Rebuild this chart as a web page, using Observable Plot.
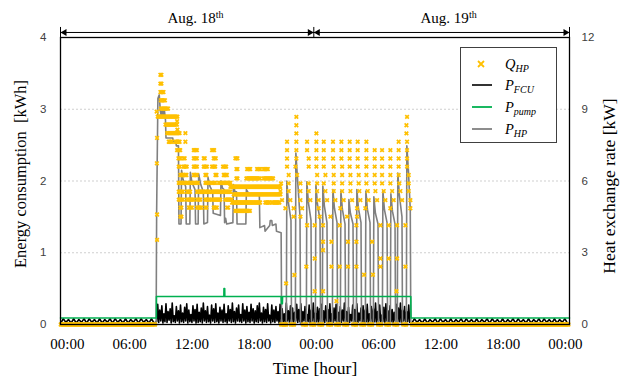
<!DOCTYPE html>
<html><head><meta charset="utf-8">
<script src="https://cdn.jsdelivr.net/npm/d3@7"></script>
<script src="https://cdn.jsdelivr.net/npm/@observablehq/plot@0.6"></script>
<style>
body{margin:0;background:#fff;}
#wrap{position:relative;width:629px;height:389px;overflow:hidden;}
#legend{position:absolute;left:460px;top:47px;width:95px;height:94px;border:1.5px solid #404040;background:#fff;font-family:"Liberation Serif",serif;color:#000;}
.item{position:absolute;left:0;height:20px;width:95px;}
.item svg{position:absolute;left:10px;top:0;}
.item span{position:absolute;left:44px;top:0px;font-style:italic;font-size:14.5px;line-height:20px;white-space:nowrap;}
.item sub{font-size:10px;font-style:italic;vertical-align:-3px;line-height:0;}
</style></head>
<body>
<div id="wrap">
<div id="chart"></div>
<div id="legend"></div>
</div>
<script>
// ---------- axes / labels ----------
const xTickHours = [0, 6, 12, 18, 24, 30, 36, 42, 48];
const xTickLabels = ["00:00","06:00","12:00","18:00","00:00","06:00","12:00","18:00","00:00"];
const yLeftTicks = [0, 1, 2, 3, 4];
const yRightTicks = [0, 3, 6, 9, 12];
const gridLevels = [1, 2, 3];
const dayLabels = ["Aug. 18", "Aug. 19"];
const dayLabelEndHours = [14.3, 38.7];
const dayBarHours = [-0.67, 23.75, 48.4];
const legendNames = [["Q","HP"], ["P","FCU"], ["P","pump"], ["P","HP"]];

// ---------- P_HP (kWh), [hour, value] ----------
const hpPoints = [
 [-0.67,0],[8.55,0],[8.6,1.6],[8.72,3.15],[8.85,3.2],[8.95,2.98],[9.05,2.9],[9.15,3.0],[9.25,2.92],[9.35,2.98],[9.45,2.85],[9.5,2.6],
 [10.15,2.6],[10.2,2.55],[10.45,2.55],[10.5,2.49],[10.7,2.49],[10.75,1.4],
 [10.95,1.4],[11.0,2.15],[11.15,2.02],[11.4,1.92],[11.45,1.4],[11.8,1.4],[11.85,2.12],[12.0,1.98],[12.3,1.88],[12.35,1.4],
 [12.6,1.4],[12.65,2.1],[12.85,1.95],[13.1,1.85],[13.15,1.4],[13.5,1.42],[13.55,2.05],[13.75,1.92],[14.0,1.85],[14.05,1.55],
 [14.75,1.52],[14.8,2.0],[14.95,1.9],[15.1,1.88],[15.15,1.42],[15.25,1.48],[15.35,1.4],[15.95,1.42],[16.0,1.95],[16.15,1.85],
 [16.3,1.85],[16.35,1.4],[17.2,1.4],[17.25,1.88],[17.5,1.82],[18.5,1.8],[18.55,1.35],[19.0,1.38],[19.05,1.3],[19.5,1.38],
 [19.55,1.45],[19.7,1.45],[19.75,1.38],[20.1,1.4],[20.15,1.3],[20.6,1.28],[20.65,0],
 [21.1,0],[21.15,2.0],[21.3,1.7],[21.55,1.45],[21.6,0],
 [21.97,0],[22.02,2.39],[22.17,2.05],[22.42,1.5],[22.47,0],
 [23.03,0],[23.08,1.99],[23.23,1.7],[23.48,1.45],[23.53,0],
 [23.9,0],[23.95,1.95],[24.1,1.68],[24.35,1.45],[24.4,0],
 [24.57,0],[24.62,1.93],[24.77,1.65],[25.02,1.42],[25.07,0],
 [25.54,0],[25.59,1.88],[25.74,1.62],[25.99,1.42],[26.04,0],
 [26.31,0],[26.36,1.86],[26.51,1.6],[26.76,1.4],[26.81,0],
 [27.08,0],[27.13,1.74],[27.28,1.55],[27.53,1.4],[27.58,0],
 [27.85,0],[27.9,1.88],[28.05,1.62],[28.3,1.42],[28.35,0],
 [28.72,0],[28.77,1.86],[28.92,1.6],[29.17,1.42],[29.22,0],
 [29.49,0],[29.54,1.78],[29.69,1.55],[29.94,1.4],[29.99,0],
 [30.36,0],[30.41,1.86],[30.56,1.6],[30.81,1.42],[30.86,0],
 [31.13,0],[31.18,1.82],[31.33,1.58],[31.58,1.4],[31.63,0],
 [31.8,0],[31.85,2.11],[32.0,1.8],[32.25,1.5],[32.3,0],
 [32.67,0],[32.72,2.49],[32.87,2.15],[33.05,1.6],[33.1,0],[48.4,0]
];

// ---------- P_pump (kWh), [hour, value] ----------
const pumpPoints = [
 [-0.67,0.09],[8.57,0.09],[8.58,0.39],[15.08,0.39],[15.09,0.5],[15.16,0.5],[15.17,0.39],
 [20.6,0.39],[20.62,0.29],[20.72,0.29],[20.74,0.39],[33.1,0.39],[33.12,0.09],[48.4,0.09]
];

// ---------- P_FCU (kWh) ----------
const fcuOff1Start = -0.65, fcuOffStep = 0.25;
const fcuOff1 = [0.02,0.08,0.03,0.07,0.02,0.08,0.02,0.07,0.03,0.08,
 0.02,0.08,0.03,0.07,0.02,0.08,0.02,0.07,0.03,0.08,
 0.02,0.08,0.03,0.07,0.02,0.08,0.02,0.07,0.03,0.08,
 0.02,0.08,0.03,0.07,0.02,0.08,0.02];
const fcuOnStart = 8.6, fcuOnStep = 0.1;
const fcuOn = [
 0.04,0.28,0.03,0.2,0.05,0.26,0.02,0.15,0.04,0.29,0.03,0.18,0.06,0.22,0.02,0.3,0.04,0.12,0.03,0.25,
 0.05,0.19,0.02,0.27,0.04,0.16,0.03,0.24,0.05,0.29,0.02,0.2,0.04,0.14,0.03,0.26,0.05,0.21,0.02,0.28,
 0.03,0.17,0.04,0.23,0.02,0.3,0.05,0.19,0.03,0.25,0.04,0.13,0.02,0.27,0.05,0.22,0.03,0.29,0.04,0.16,
 0.02,0.24,0.05,0.2,0.03,0.28,0.04,0.15,0.02,0.26,0.05,0.21,0.03,0.3,0.04,0.18,0.02,0.23,0.05,0.27,
 0.04,0.14,0.03,0.29,0.05,0.2,0.02,0.25,0.04,0.17,0.03,0.28,0.05,0.22,0.02,0.19,0.04,0.26,0.03,0.3,
 0.05,0.16,0.02,0.24,0.04,0.21,0.03,0.29,0.05,0.13,0.02,0.27,0.04,0.2,0.03,0.25,0.05,0.18,0.02,0.28,
 0.03,0.22,0.04,0.15,0.02,0.3,0.05,0.19,0.03,0.26,0.04,0.23,0.02,0.17,0.05,0.28,0.03,0.21,0.04,0.29,
 0.02,0.18,0.05,0.25,0.03,0.14,0.04,0.27,0.02,0.2,0.05,0.3,0.03,0.16,0.04,0.24,0.02,0.22,0.05,0.28,
 0.04,0.19,0.03,0.26,0.05,0.21,0.02,0.29,0.04,0.15,0.03,0.23,0.05,0.28,0.02,0.17,0.04,0.25,0.03,0.2,
 0.05,0.3,0.02,0.18,0.04,0.24,0.03,0.14,0.05,0.27,0.02,0.21,0.04,0.29,0.03,0.16,0.05,0.23,0.02,0.26,
 0.03,0.2,0.04,0.28,0.02,0.15,0.05,0.25,0.03,0.22,0.04,0.3,0.02,0.18,0.05,0.27,0.03,0.13,0.04,0.24,
 0.02,0.29,0.05,0.19,0.03,0.26,0.04,0.21,0.02,0.17,0.05,0.28,0.03,0.23,0.04,0.3,0.02,0.2,0.05,0.25,
 0.03,0.18,0.04,0.27,0.03
];
const fcuOff2Start = 33.2;
const fcuOff2 = [
 0.02,0.08,0.03,0.07,0.02,0.08,0.02,0.07,0.03,0.08,
 0.02,0.08,0.03,0.07,0.02,0.08,0.02,0.07,0.03,0.08,
 0.02,0.08,0.03,0.07,0.02,0.08,0.02,0.07,0.03,0.08,
 0.02,0.08,0.03,0.07,0.02,0.08,0.02,0.07,0.03,0.08,
 0.02,0.08,0.03,0.07,0.02,0.08,0.02,0.07,0.03,0.08,
 0.02,0.08,0.03,0.07,0.02,0.08,0.02,0.07,0.03,0.08,0.02];

// ---------- Q_HP (kW) ----------
const qSampleStep = 0.1;
const qZeroRuns = [[-0.65,8.5],[20.6,21.1],[21.55,21.9],[22.72,23.05],[23.5,23.82],[24.27,24.6],[25.13,25.46],
 [25.9,26.23],[26.67,27.0],[27.55,27.87],[28.32,28.64],[29.08,29.41],[29.95,30.28],[30.73,31.05],[31.5,31.82],
 [32.37,32.69],[33.2,48.35]];
const qRunsDay1 = [
 [8.96,9.13,10.44],[8.96,9.13,10.07],[8.96,9.29,9.72],[9.0,9.45,9.375],[9.0,9.77,9.03],[8.7,10.6,8.69],
 [10.57,10.57,8.5],[9.45,10.57,8.36],[10.6,10.6,8.15],[9.61,10.89,8.0],[11.37,11.37,8.0],
 [9.77,10.09,7.64],[10.41,10.89,7.64],[11.37,11.37,7.64],
 [10.57,10.89,7.29],[12.18,12.5,7.29],[13.94,14.2,7.29],
 [10.7,10.9,6.95],[11.2,11.37,6.95],[12.18,12.5,6.95],[13.14,13.3,6.95],[14.1,14.33,6.95],[16.19,16.42,6.95],
 [10.73,10.89,6.6],[11.2,11.53,6.6],[12.18,12.5,6.6],[13.14,13.46,6.6],[13.94,14.33,6.6],[15.0,15.39,6.6],
 [16.29,16.42,6.5],[17.32,17.64,6.5],[18.28,18.6,6.5],[18.92,19.4,6.5],
 [10.89,11.21,6.25],[11.37,11.53,6.25],[12.18,12.5,6.25],[13.3,13.46,6.25],[14.27,14.43,6.25],[15.07,15.39,6.25],
 [16.29,16.42,6.11],[17.25,18.6,6.11],[18.92,19.88,6.11],
 [10.73,11.37,5.92],[11.53,12.02,5.92],[12.18,12.66,5.92],[13.3,13.78,5.92],[13.94,14.27,5.92],[14.6,15.71,5.92],
 [15.71,20.6,5.76],
 [10.73,11.21,5.55],[11.53,11.86,5.55],[12.5,13.14,5.55],[13.3,13.78,5.55],[13.94,14.75,5.55],[14.9,15.71,5.55],
 [16.03,20.6,5.44],
 [10.73,11.21,5.22],[11.53,12.18,5.22],[12.5,12.82,5.22],[13.3,13.78,5.22],[13.94,14.75,5.22],[15.23,15.87,5.22],
 [15.87,18.6,5.1],[19.08,19.57,5.1],[19.73,20.5,5.1],
 [10.89,11.05,4.89],[11.7,12.02,4.89],[12.5,12.98,4.89],[13.3,13.46,4.89],[14.1,14.43,4.89],[15.39,15.55,4.89],
 [16.19,17.64,4.75],[10.89,11.05,4.51]
];
const qRowLevels = [8.68, 8.33, 7.99, 7.64, 7.29, 6.94, 6.6, 6.25, 5.9, 5.58, 5.2, 4.86, 4.51];
const qRowHours = [
 [22.07,32.74],
 [22.07,32.68],
 [22.07,24.0,32.68],
 [21.17,22.07,23.1,24.0,24.71,25.6,26.41,27.21,27.98,28.82,31.93,32.74],
 [21.17,22.07,23.1,24.0,24.71,25.6,26.41,27.21,27.98,28.82,29.62,30.33,31.13,31.93,32.74],
 [21.17,22.07,23.26,24.0,24.71,25.6,26.41,27.21,27.98,28.82,29.62,30.33,31.13,31.93,32.74],
 [21.17,21.98,23.26,24.0,24.71,25.67,26.48,27.21,27.98,28.82,29.62,30.33,31.13,31.93,32.74],
 [21.33,22.14,24.07,24.87,25.67,26.48,27.28,28.08,28.82,29.62,30.33,31.13,31.93,32.9],
 [20.59,21.33,22.46,23.26,24.07,24.71,25.67,26.48,27.28,28.08,28.82,29.62,30.33,31.13,31.99,32.9],
 [20.53,21.33,22.46,23.26,24.07,24.87,25.67,26.48,27.28,28.14,28.95,29.69,30.49,31.3,32.1,32.9],
 [20.69,21.49,22.46,23.42,24.22,25.03,25.83,26.63,27.44,28.24,29.04,29.85,30.65,31.45,32.26,33.06],
 [21.01,21.81,22.62,24.22,26.31,27.92,28.72,31.13,33.06],
 [21.81,22.46,24.32,25.35,26.96,27.92]
];
const qSingles = [
 [8.64,3.54],[8.64,4.6],[8.62,6.74],[8.64,7.8],[8.6,8.9],
 [21.08,1.72],[21.88,2.07],[23.1,4.15],[23.84,4.15],[24.64,4.15],[26.25,4.15],[27.86,4.15],[30.17,4.15],[30.97,4.15],[31.78,4.15],[32.58,4.15],
 [24.64,3.46],[25.45,3.46],[27.05,3.46],[27.86,3.46],[29.37,3.46],[24.64,3.11],
 [23.84,2.76],[30.17,2.76],[30.97,2.76],[31.78,2.76],
 [23.03,2.42],[25.45,2.42],[26.25,2.42],[27.05,2.42],[27.86,2.42],[30.17,2.42],[32.58,2.42],
 [28.6,2.08],[29.45,2.08],[23.84,1.39],[24.64,1.39],[31.72,1.39],[25.93,0.98]
];

// ---------- build tables ----------
const hpLine = hpPoints.map(([t, v]) => ({t, v}));
const pumpLine = pumpPoints.map(([t, v]) => ({t, v}));
const fcu = [];
fcuOff1.forEach((v, i) => fcu.push({t: fcuOff1Start + i * fcuOffStep, v}));
fcuOn.forEach((v, i) => fcu.push({t: fcuOnStart + i * fcuOnStep, v}));
fcuOff2.forEach((v, i) => fcu.push({t: fcuOff2Start + i * fcuOffStep, v}));
const qPts = [];
for (const [a, b] of qZeroRuns) for (let t = a; t <= b + 1e-6; t += qSampleStep) qPts.push({t, q: 0});
for (const [a, b, lv] of qRunsDay1) for (let t = a; t <= b + 1e-6; t += qSampleStep) qPts.push({t, q: lv});
qRowLevels.forEach((lv, i) => qRowHours[i].forEach(t => qPts.push({t, q: lv})));
qSingles.forEach(([t, lv]) => qPts.push({t, q: lv}));

const xLabelOf = new Map(xTickHours.map((h, i) => [h, xTickLabels[i]]));
const rightLabelOf = new Map(yLeftTicks.map((v, i) => [v, String(yRightTicks[i])]));
const arrowY = 4.07;
const bars = dayBarHours.map(t => ({t}));
const spans = [{a: dayBarHours[0], b: dayBarHours[1]}, {a: dayBarHours[1], b: dayBarHours[2]}];
const serif = "Liberation Serif, Times New Roman, serif";
const sans = "Liberation Sans, Arial, sans-serif";

const chart = Plot.plot({
  width: 629, height: 389,
  marginLeft: 60, marginRight: 60, marginTop: 37, marginBottom: 65,
  x: {domain: [-0.67, 48.4]},
  y: {domain: [0, 4]},
  style: {background: "white", fontFamily: serif, color: "black", overflow: "visible"},
  marks: [
    Plot.ruleY(gridLevels, {stroke: "#cfcfcf", strokeDasharray: "2,2", strokeWidth: 1}),
    Plot.line(fcu, {x: "t", y: "v", stroke: "black", strokeWidth: 1.6}),
    Plot.line(hpLine, {x: "t", y: "v", stroke: "#808080", strokeWidth: 1.6}),
    Plot.line(pumpLine, {x: "t", y: "v", stroke: "#00B050", strokeWidth: 1.6}),
    Plot.dot(qPts, {x: "t", y: d => d.q / 3, symbol: "times", r: 1.8, stroke: "#FFC000", strokeWidth: 1.7}),
    Plot.frame({stroke: "black", strokeWidth: 1.3}),
    Plot.axisX({ticks: xTickHours, tickFormat: d => xLabelOf.get(d), tickSize: 0, tickPadding: 14, fontSize: 15, fontFamily: serif, fill: "black", label: null}),
    Plot.axisY({anchor: "left", ticks: yLeftTicks, tickFormat: d => String(d), tickSize: 0, tickPadding: 14, fontSize: 11.5, fontFamily: sans, fill: "#404040", label: null}),
    Plot.axisY({anchor: "right", ticks: yLeftTicks, tickFormat: d => rightLabelOf.get(d), tickSize: 0, tickPadding: 12, fontSize: 11.5, fontFamily: sans, fill: "#404040", label: null}),
    Plot.text(["Energy consumption\u00a0 [kWh]"], {frameAnchor: "left", textAnchor: "middle", lineAnchor: "middle", dx: -40, dy: -7, rotate: -90, fontSize: 16.5, fontFamily: serif, fill: "black"}),
    Plot.text(["Heat exchange rate [kW]"], {frameAnchor: "right", textAnchor: "middle", lineAnchor: "middle", dx: 40, dy: 5, rotate: -90, fontSize: 17.5, fontFamily: serif, fill: "black"}),
    Plot.text(["Time [hour]"], {frameAnchor: "bottom", textAnchor: "middle", lineAnchor: "middle", dy: 44, fontSize: 17.5, fontFamily: serif, fill: "black"}),
    // day annotation
    Plot.ruleX(bars, {x: "t", y1: () => 4.0, y2: () => 4.14, stroke: "black", strokeWidth: 1}),
    Plot.link(spans, {x1: "a", x2: "b", y1: () => arrowY, y2: () => arrowY, stroke: "black", strokeWidth: 1}),
    Plot.dot([dayBarHours[1], dayBarHours[2]], {x: d => d, y: () => arrowY, symbol: "triangle", r: 2.6, fill: "black", rotate: 90, dx: -4}),
    Plot.dot([dayBarHours[0], dayBarHours[1]], {x: d => d, y: () => arrowY, symbol: "triangle", r: 2.6, fill: "black", rotate: -90, dx: 4}),
    Plot.text(dayLabels, {x: (d, i) => dayLabelEndHours[i], y: () => 4.265, textAnchor: "end", fontSize: 15, fontFamily: serif, fill: "black"}),
    Plot.text(dayLabels.map(() => "th"), {x: (d, i) => dayLabelEndHours[i], y: () => 4.32, textAnchor: "start", fontSize: 10, fontFamily: serif, fill: "black"})
  ]
});
document.getElementById("chart").appendChild(chart);

// ---------- legend ----------
const legend = document.getElementById("legend");
const rowTops = [6, 27, 49, 71];
const symbols = [
  '<path d="M7,7 L13,13 M13,7 L7,13" stroke="#FFC000" stroke-width="1.8" fill="none"/>',
  '<line x1="1" y1="10" x2="21" y2="10" stroke="black" stroke-width="1.6"/>',
  '<line x1="1" y1="10" x2="21" y2="10" stroke="#00B050" stroke-width="1.8"/>',
  '<line x1="1" y1="10" x2="21" y2="10" stroke="#808080" stroke-width="1.8"/>'
];
legendNames.forEach(([m, s], i) => {
  const d = document.createElement("div");
  d.className = "item";
  d.style.top = rowTops[i] + "px";
  d.innerHTML = `<svg width="22" height="20">${symbols[i]}</svg><span>${m}<sub>${s}</sub></span>`;
  legend.appendChild(d);
});
</script>
</body></html>
